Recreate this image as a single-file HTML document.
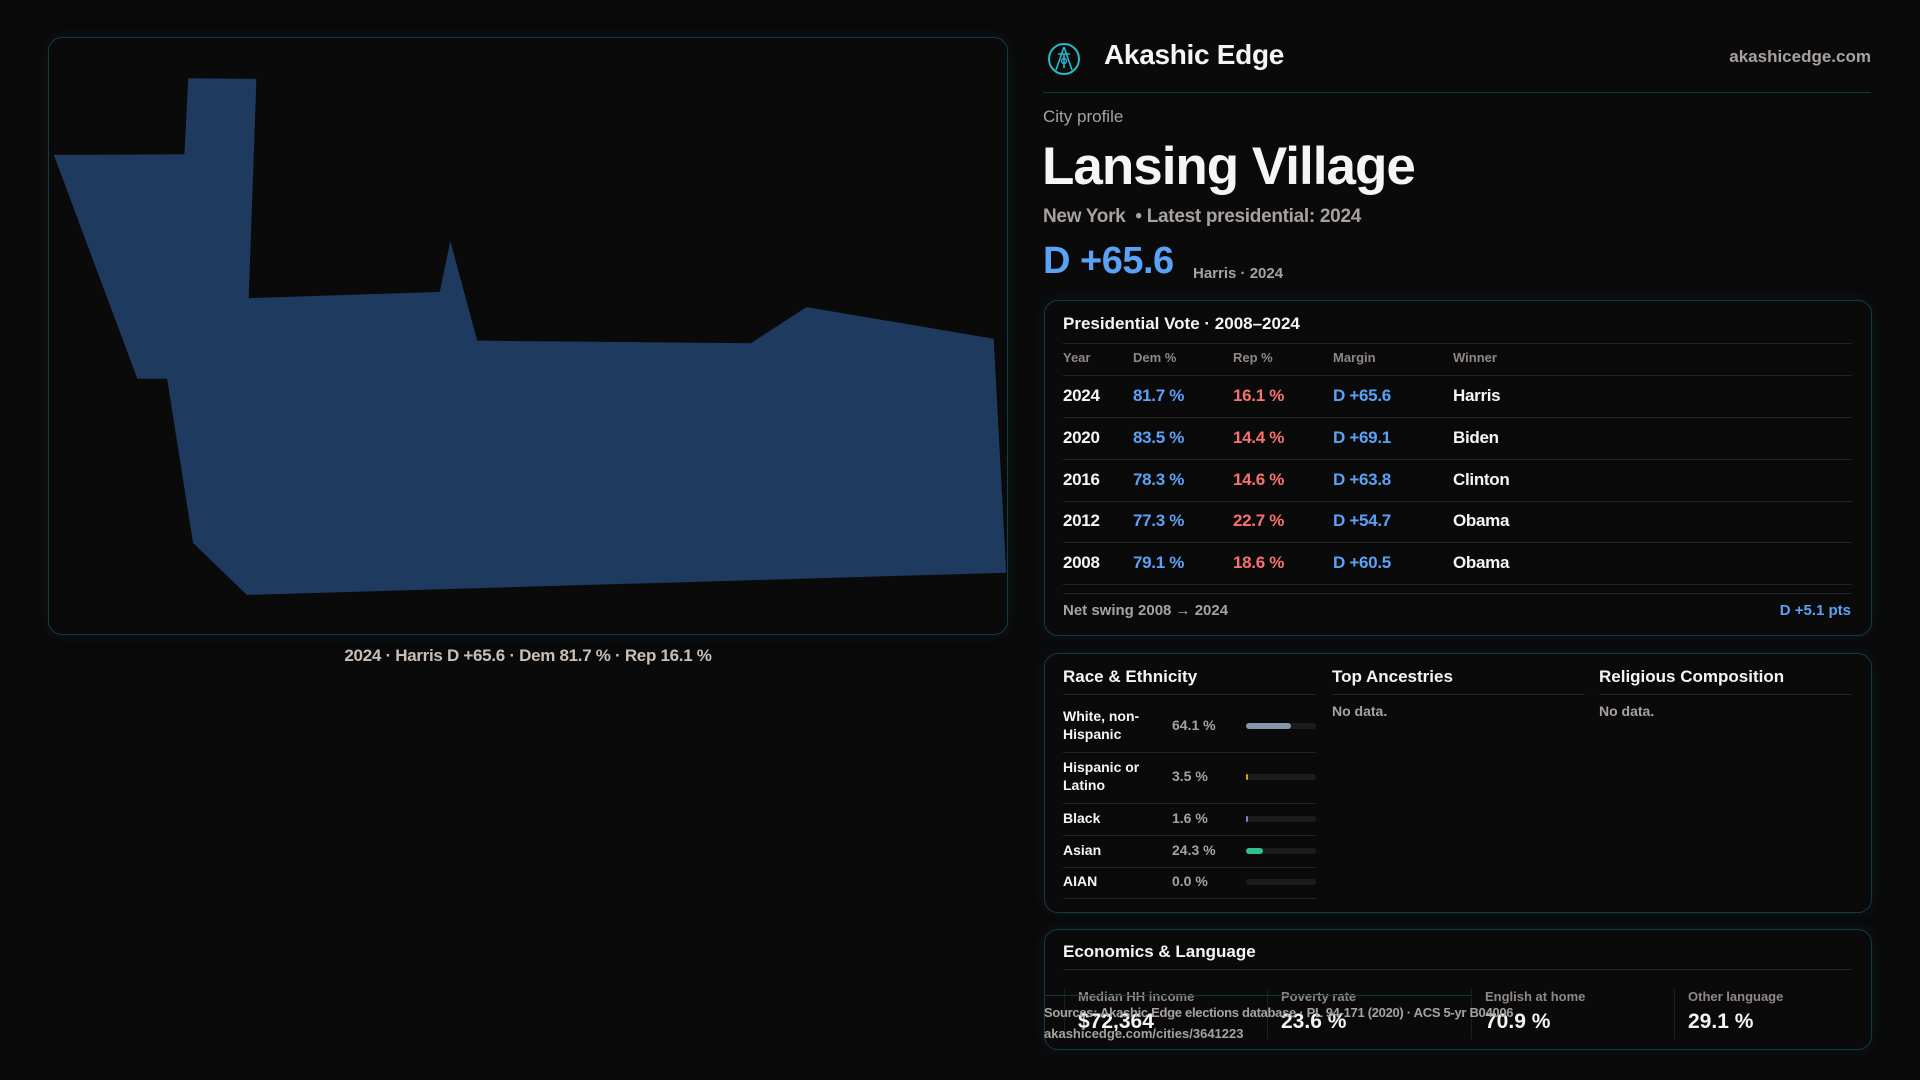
<!DOCTYPE html>
<html><head><meta charset="utf-8"><style>
*{box-sizing:border-box;margin:0;padding:0}
body{width:1920px;height:1080px;background:#0a0a0b;font-family:"Liberation Sans",sans-serif;color:#f5f5f4;position:relative;overflow:hidden}
.a{position:absolute;white-space:nowrap}
.panel{position:absolute;border:1px solid #133c44;border-radius:14px;background:#0a0a0b;box-shadow:0 0 14px rgba(20,80,90,.18)}
.dim{color:#a8a29e}
.blue{color:#5aa2f5}.red{color:#f87171}
.hl{position:absolute;height:1px;background:#242424}
</style></head><body>
<div class="panel" style="left:48px;top:37px;width:960px;height:598px"></div>
<svg id="map" class="a" style="left:0;top:0" width="1020" height="650"></svg>
<div class="a dim" style="left:0;width:1056px;text-align:center;top:646px;font-size:17px;font-weight:bold;color:#c9bfb6;letter-spacing:-0.3px">2024 · Harris D +65.6 · Dem 81.7 % · Rep 16.1 %</div>

<svg class="a" style="left:1047px;top:42px" width="34" height="34" viewBox="0 0 34 34"><circle cx="17" cy="17" r="15" fill="none" stroke="#2bb6c9" stroke-width="2"/><path d="M17 5 L9 28 M17 5 L25 28 M11 12 H23 M17 12 V26" stroke="#2bb6c9" stroke-width="1.6" fill="none"/><circle cx="17" cy="19" r="2.5" fill="none" stroke="#2bb6c9" stroke-width="1.4"/></svg>
<div class="a" style="left:1104px;top:39px;font-size:28px;font-weight:bold;letter-spacing:-0.3px">Akashic Edge</div>
<div class="a dim" style="right:49px;top:47px;font-size:17px;font-weight:bold">akashicedge.com</div>
<div class="hl" style="left:1043px;top:92px;width:828px;background:#12363d"></div>
<div class="a dim" style="left:1043px;top:107px;font-size:17px">City profile</div>
<div class="a" style="left:1042px;top:136px;font-size:53px;font-weight:bold;letter-spacing:-1px">Lansing Village</div>
<div class="a dim" style="left:1043px;top:206px;font-size:19px;font-weight:bold;letter-spacing:-0.3px">New York &nbsp;• Latest presidential: 2024</div>
<div class="a blue" style="left:1043px;top:240px;font-size:38px;font-weight:bold;letter-spacing:-0.5px">D +65.6</div>
<div class="a dim" style="left:1193px;top:265px;font-size:15px;font-weight:bold">Harris · 2024</div>

<div class="panel" style="left:1044px;top:300px;width:828px;height:336px"></div>
<div class="a" style="left:1063px;top:314px;font-size:17px;font-weight:bold">Presidential Vote · 2008–2024</div>
<div class="hl" style="left:1063px;top:343px;width:789px"></div>
<div id="vt"></div>
<div class="hl" style="left:1063px;top:593px;width:789px"></div>
<div class="a dim" style="left:1063px;top:602px;font-size:15px;font-weight:bold">Net swing 2008 → 2024</div>
<div class="a blue" style="right:69px;top:602px;font-size:15px;font-weight:bold">D +5.1 pts</div>

<div class="panel" style="left:1044px;top:653px;width:828px;height:260px"></div>
<div class="a" style="left:1063px;top:667px;font-size:17px;font-weight:bold">Race &amp; Ethnicity</div>
<div class="hl" style="left:1063px;top:694px;width:253px"></div>
<div class="a" style="left:1332px;top:667px;font-size:17px;font-weight:bold">Top Ancestries</div>
<div class="hl" style="left:1332px;top:694px;width:253px"></div>
<div class="a dim" style="left:1332px;top:703px;font-size:14px;font-weight:bold">No data.</div>
<div class="a" style="left:1599px;top:667px;font-size:17px;font-weight:bold">Religious Composition</div>
<div class="hl" style="left:1599px;top:694px;width:253px"></div>
<div class="a dim" style="left:1599px;top:703px;font-size:14px;font-weight:bold">No data.</div>
<div id="race"></div>

<div class="panel" style="left:1044px;top:929px;width:828px;height:121px"></div>
<div class="a" style="left:1063px;top:942px;font-size:17px;font-weight:bold">Economics &amp; Language</div>
<div class="hl" style="left:1063px;top:969px;width:789px"></div>
<div id="econ"></div>
<div class="hl" style="left:1044px;top:995px;width:427px;background:#12363d"></div>
<div class="a dim" style="left:1044px;top:1005px;font-size:13px;font-weight:bold;letter-spacing:-0.3px">Sources: Akashic Edge elections database · PL 94-171 (2020) · ACS 5-yr B04006</div>
<div class="a dim" style="left:1044px;top:1026px;font-size:13px;font-weight:bold">akashicedge.com/cities/3641223</div>

<script>
// Map boundary (normalized 0-1 coordinates)
const mapX=[0.144,0.215,0.207,0.406,0.417,0.445,0.730,0.788,0.983,0.996,0.205,0.149,0.122,0.091,0.004,0.140];
const mapY=[0.065,0.066,0.412,0.402,0.322,0.479,0.483,0.426,0.476,0.845,0.880,0.798,0.539,0.539,0.186,0.185];
const years=["2024","2020","2016","2012","2008"];
const demPct=[81.7,83.5,78.3,77.3,79.1];
const repPct=[16.1,14.4,14.6,22.7,18.6];
const margins=[65.6,69.1,63.8,54.7,60.5];
const winners=["Harris","Biden","Clinton","Obama","Obama"];
const raceLabels=[["White, non-","Hispanic"],["Hispanic or","Latino"],["Black"],["Asian"],["AIAN"]];
const raceValues=[64.1,3.5,1.6,24.3,0.0];
const raceColors=["#8795ab","#e89a1c","#8b7be0","#2fbf8f","#555"];
const econLabels=["Median HH income","Poverty rate","English at home","Other language"];
const econValues=["$72,364","23.6 %","70.9 %","29.1 %"];

const sx=v=>50+v*960, sy=v=>37+v*634;
const svg=document.getElementById('map');
const poly=document.createElementNS('http://www.w3.org/2000/svg','polygon');
poly.setAttribute('points',mapX.map((x,i)=>sx(x)+','+sy(mapY[i])).join(' '));
poly.setAttribute('fill','#1f3a5f');


svg.appendChild(poly);

const vt=document.getElementById('vt');
const cols=[1063,1133,1233,1333,1453];
let h='';
["Year","Dem %","Rep %","Margin","Winner"].forEach((t,i)=>{h+=`<div class="a dim" style="left:${cols[i]}px;top:350px;font-size:13px;font-weight:bold;color:#8f8883">${t}</div>`});
h+='<div class="hl" style="left:1063px;top:375px;width:789px"></div>';
years.forEach((y,i)=>{
 const top=386+i*41.8;
 h+=`<div class="a" style="left:0;top:${top}px;font-size:17px;font-weight:bold;letter-spacing:-0.3px">
 <span class="a" style="left:${cols[0]}px">${y}</span><span class="a blue" style="left:${cols[1]}px">${demPct[i].toFixed(1)} %</span><span class="a red" style="left:${cols[2]}px">${repPct[i].toFixed(1)} %</span><span class="a blue" style="left:${cols[3]}px">D +${margins[i].toFixed(1)}</span><span class="a" style="left:${cols[4]}px">${winners[i]}</span></div>`;
 h+=`<div class="hl" style="left:1063px;top:${top+31}px;width:789px"></div>`;
});
vt.innerHTML=h;

const race=document.getElementById('race');
const rowC=[726,777,819,851,882], rowL=[752,803,835,867,898];
const bw=v=>70*v/100;
let r='';
raceLabels.forEach((l,i)=>{
 const lt=rowC[i]-(l.length*18)/2-1;
 r+=`<div class="a" style="left:1063px;top:${lt}px;font-size:14px;font-weight:bold;line-height:18px">${l.join('<br>')}</div>`;
 r+=`<div class="a dim" style="left:1172px;top:${rowC[i]-9}px;font-size:14px;font-weight:bold">${raceValues[i].toFixed(1)} %</div>`;
 r+=`<div class="a" style="left:1246px;top:${rowC[i]-3}px;width:70px;height:6px;border-radius:3px;background:#1c1c1e"></div>`;
 r+=`<div class="a" style="left:1246px;top:${rowC[i]-3}px;width:${Math.max(bw(raceValues[i]),raceValues[i]>0?1.5:0)}px;height:6px;border-radius:3px;background:${raceColors[i]}"></div>`;
 r+=`<div class="hl" style="left:1063px;top:${rowL[i]}px;width:253px"></div>`;
});
race.innerHTML=r;

const econ=document.getElementById('econ');
const ex=[1064,1267,1471,1674];
let e='';
econLabels.forEach((l,i)=>{
 e+=`<div class="a" style="left:${ex[i]}px;top:989px;width:1px;height:50px;background:#1e1e1e"></div>`;
 e+=`<div class="a dim" style="left:${ex[i]+14}px;top:989px;font-size:13px;font-weight:bold;color:#8f8883">${l}</div>`;
 e+=`<div class="a" style="left:${ex[i]+14}px;top:1010px;font-size:21px;font-weight:bold">${econValues[i]}</div>`;
});
econ.innerHTML=e;
</script>
</body></html>
